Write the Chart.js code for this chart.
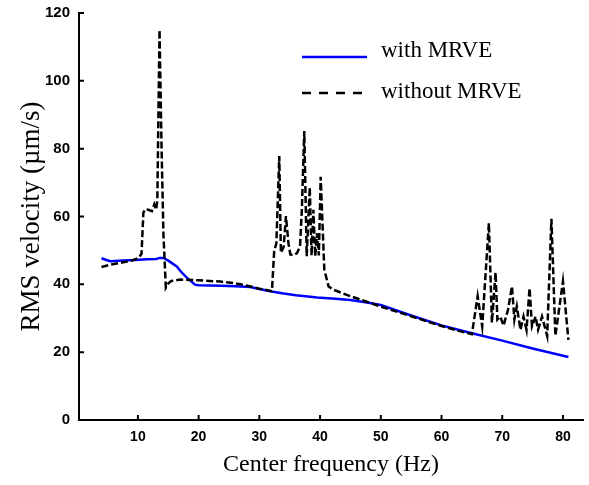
<!DOCTYPE html>
<html>
<head>
<meta charset="utf-8">
<script src="https://cdn.jsdelivr.net/npm/chart.js@4/dist/chart.umd.min.js"></script>
<style>
  body { margin: 0; background: #fff; }
  .wrap { width: 589px; height: 485px; }
</style>
</head>
<body>
<div class="wrap"><canvas id="c"></canvas></div>
<script>
// ── Data ──────────────────────────────────────────────────────────────────
const seriesLabels = ['with MRVE', 'without MRVE']

const freqWith = [4.0, 5.4, 7.6, 9.5, 11.5, 13.0, 13.6, 14.2, 15.0, 16.4, 17.2, 18.1, 19.4, 20, 23.6, 26, 28.5,
  30, 32, 34, 36, 38, 39.5, 42, 45, 48, 50, 55, 60, 65, 70, 75, 80.9]
const velWith = [47.7, 46.8, 47.0, 47.2, 47.4, 47.5, 47.8, 47.8, 47.0, 45.3, 43.5, 41.9, 39.9, 39.7, 39.6, 39.4, 39.2,
  38.6, 37.9, 37.3, 36.8, 36.4, 36.1, 35.8, 35.4, 34.6, 33.9, 30.8, 27.9, 25.6, 23.4, 21.1, 18.6]

const freqWithout = [4.0, 5.5, 7.6, 9.0, 10.1, 10.6, 10.9, 11.2, 11.7, 12.3, 12.7, 13.0, 13.2, 13.56, 13.9, 14.2, 14.6,
  15.0, 15.5, 17, 20, 23.6, 26, 28, 30, 31.5, 32.07, 32.45, 32.8, 33.28, 33.55, 34.0, 34.38, 34.8, 35.1, 35.7, 36.2,
  36.7, 37.0, 37.4, 37.8, 38.3, 38.6, 38.9, 39.2, 39.5, 39.8, 40.1, 40.7, 41.4, 42.2, 45, 49.9, 55, 60, 63, 65.0,
  65.95, 66.7, 67.8, 68.3, 68.9, 69.2, 69.7, 70.2, 70.95, 71.6, 72.0, 72.4, 73.0, 73.5, 74.0, 74.5, 74.9, 75.5,
  75.9, 76.55, 77.4, 78.1, 78.75, 80.0, 80.9]
const velWithout = [45.1, 45.8, 46.5, 47.0, 47.8, 49, 61.1, 62.2, 62.0, 61.6, 63.6, 62.0, 64.8, 115, 80, 55, 39.0,
  40.2, 41.0, 41.4, 41.2, 40.8, 40.3, 39.6, 38.7, 38.2, 38.0, 50, 52, 77.8, 49.3, 51, 60.1, 52, 48.8, 48.6, 49.2,
  51.2, 62, 85.2, 48.3, 68.6, 48.5, 62, 48.3, 55, 48.5, 71.7, 44.3, 39.4, 38.4, 36.5, 33.5, 30.6, 27.7, 26.2, 25.3,
  36.5, 27.6, 58.1, 28.7, 43.5, 29.6, 30.5, 27.8, 32.5, 39.4, 29.6, 33.5, 26.6, 30.5, 26.6, 38.9, 27.6, 30.5,
  26.6, 30.5, 24.8, 59.3, 24.8, 40.9, 23.6]

const xTicks = [10, 20, 30, 40, 50, 60, 70, 80]
const yTicks = [0, 20, 40, 60, 80, 100, 120]

const toPoints = (xs, ys) => xs.map((x, i) => ({ x, y: ys[i] }))

// ── Tick marks pointing into the plot ─────────────────────────────────────
const inwardTicks = {
  id: 'inwardTicks',
  afterDatasetsDraw(chart) {
    const { ctx, chartArea, scales: { x, y } } = chart
    ctx.save()
    ctx.strokeStyle = '#000'
    ctx.lineWidth = 2
    ctx.beginPath()
    x.ticks.forEach(t => {
      const px = x.getPixelForValue(t.value)
      ctx.moveTo(px, chartArea.bottom)
      ctx.lineTo(px, chartArea.bottom - 5)
    })
    y.ticks.forEach(t => {
      const py = y.getPixelForValue(t.value)
      ctx.moveTo(chartArea.left, py)
      ctx.lineTo(chartArea.left + 5, py)
    })
    ctx.stroke()
    ctx.restore()
  }
}

// ── Legend drawn inside the plot ──────────────────────────────────────────
const insideLegend = {
  id: 'insideLegend',
  afterDatasetsDraw(chart) {
    const ctx = chart.ctx
    const lineY = [57, 93]
    const textY = [51, 92]
    chart.data.datasets.forEach((ds, i) => {
      ctx.save()
      ctx.strokeStyle = ds.borderColor
      ctx.lineWidth = ds.borderWidth
      ctx.setLineDash(ds.borderDash ? [9, 8] : [])
      ctx.beginPath()
      ctx.moveTo(302, lineY[i])
      ctx.lineTo(367, lineY[i])
      ctx.stroke()
      ctx.setLineDash([])
      ctx.fillStyle = '#000'
      ctx.font = '23px "Liberation Serif"'
      ctx.textBaseline = 'middle'
      ctx.fillText(ds.label, 381, textY[i])
      ctx.restore()
    })
  }
}

const axisGrid = { drawOnChartArea: false, drawTicks: false }
const axisBorder = { display: true, color: '#000', width: 2 }

new Chart(document.getElementById('c'), {
  type: 'line',
  data: {
    datasets: [
      {
        label: seriesLabels[0],
        data: toPoints(freqWith, velWith),
        borderColor: '#0000ff',
        borderWidth: 2.5,
        pointRadius: 0,
        tension: 0,
        order: 1
      },
      {
        label: seriesLabels[1],
        data: toPoints(freqWithout, velWithout),
        borderColor: '#000000',
        borderWidth: 2.5,
        borderDash: [7, 3],
        pointRadius: 0,
        tension: 0,
        order: 0
      }
    ]
  },
  options: {
    responsive: true,
    maintainAspectRatio: false,
    animation: false,
    layout: { padding: { top: 13, right: 6, left: 0, bottom: 0 } },
    plugins: { legend: { display: false }, tooltip: { enabled: false } },
    scales: {
      x: {
        type: 'linear',
        min: 0.3,
        max: 83.3,
        grid: axisGrid,
        border: axisBorder,
        afterBuildTicks: s => { s.ticks = xTicks.map(v => ({ value: v })) },
        afterFit: s => { s.height = 65 },
        ticks: { color: '#000', padding: 9, font: { family: '"Liberation Sans"', size: 14, weight: 'bold' } },
        title: {
          display: true,
          text: 'Center frequency (Hz)',
          color: '#000',
          font: { family: '"Liberation Serif"', size: 24 },
          padding: { top: 0, bottom: 6 }
        }
      },
      y: {
        min: 0,
        max: 120,
        grid: axisGrid,
        border: axisBorder,
        afterBuildTicks: s => { s.ticks = yTicks.map(v => ({ value: v })) },
        afterFit: s => { s.width = 79 },
        ticks: { color: '#000', padding: 9, font: { family: '"Liberation Sans"', size: 15, weight: 'bold', lineHeight: 0.5 } },
        title: {
          display: true,
          text: 'RMS velocity (µm/s)',
          color: '#000',
          font: { family: '"Liberation Serif"', size: 27 },
          padding: { top: 16, bottom: 0 }
        }
      }
    }
  },
  plugins: [inwardTicks, insideLegend]
})
</script>
</body>
</html>
